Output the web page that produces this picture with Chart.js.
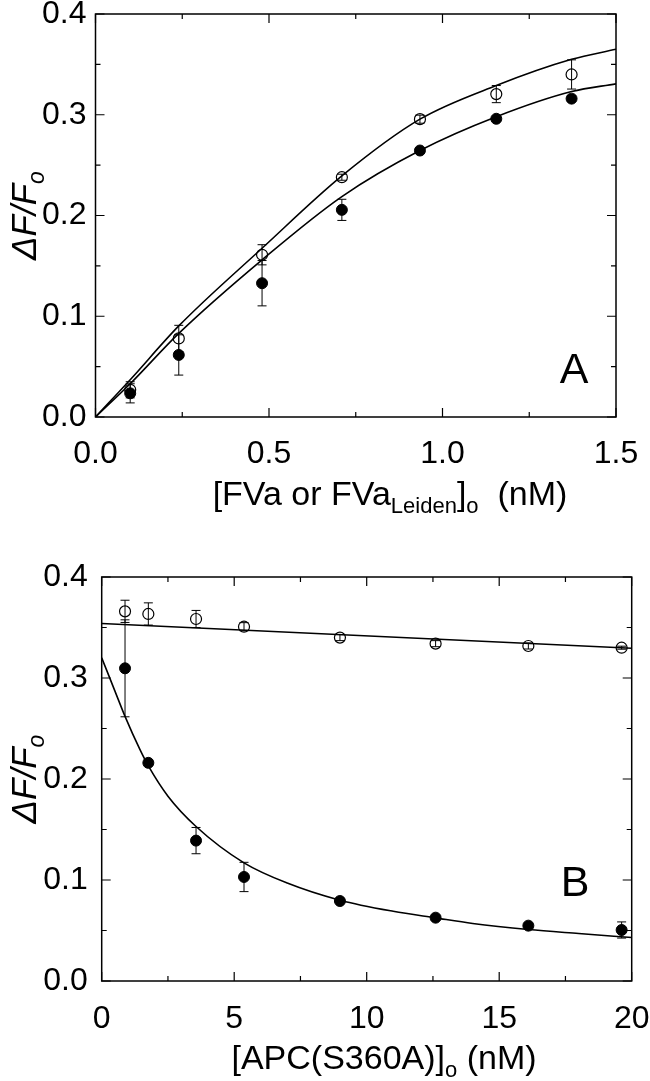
<!DOCTYPE html>
<html>
<head>
<meta charset="utf-8">
<title>Fluorescence binding titrations</title>
<script src="https://cdn.jsdelivr.net/npm/chart.js@4.4.1/dist/chart.umd.min.js"></script>
<style>
    html, body { margin: 0; padding: 0; background: #ffffff; }
    canvas { display: block; }
</style>
</head>
<body>

<canvas id="chartA" width="650" height="540"></canvas>
<canvas id="chartB" width="650" height="541"></canvas>

<script>
/* ==========================================
        DATA - PANEL A
========================================== */

const aConc = [0.10, 0.24, 0.48, 0.71, 0.935, 1.155, 1.372];

const aOpen = [0.027, 0.078, 0.161, 0.238, 0.2956, 0.3205, 0.340];
const aOpenErr = [0.008, 0.013, 0.010, 0.003, 0.004, 0.0085, 0.0145];

const aFilled = [0.0235, 0.0616, 0.1328, 0.2056, 0.2645, 0.296, 0.316];
const aFilledErr = [0.0095, 0.020, 0.0225, 0.0105, 0.002, 0.002, 0.003];

const aFitX = [0, 0.10, 0.24, 0.48, 0.71, 0.935, 1.155, 1.372, 1.5];
const aFitOpen = [0, 0.037, 0.0904, 0.1675, 0.2393, 0.2956, 0.329, 0.355, 0.365];
const aFitFilled = [0, 0.033, 0.083, 0.156, 0.2188, 0.2645, 0.298, 0.323, 0.3307];

const aXTicks = ["0.0", "0.5", "1.0", "1.5"];

/* ==========================================
        DATA - PANEL B
========================================== */

const bConc = [0.88, 1.76, 3.56, 5.37, 8.99, 12.6, 16.1, 19.62];

const bOpen = [0.366, 0.3634, 0.3584, 0.3508, 0.340, 0.334, 0.3317, 0.330];
const bOpenErr = [0.011, 0.011, 0.0085, 0.004, 0.003, 0.003, 0.003, 0.0015];

const bFilled = [0.3096, 0.216, 0.139, 0.103, 0.0792, 0.0627, 0.0548, 0.0505];
const bFilledErr = [0.048, 0.003, 0.013, 0.0145, 0.002, 0.002, 0.002, 0.008];

const bFitX = [0, 0.5, 0.88, 1.445, 1.76, 2.5, 3.56, 5.37, 7, 8.99, 11, 12.6, 14, 16.1, 18, 20];
const bFitFilled = [0.32, 0.287, 0.262, 0.229, 0.213, 0.183, 0.153, 0.117, 0.097, 0.080, 0.069, 0.0625, 0.057, 0.051, 0.047, 0.043];

const bFitOpenX = [0, 20];
const bFitOpen = [0.354, 0.3294];

const bXTicks = ["0", "5", "10", "15", "20"];

/* ==========================================
        SHARED
========================================== */

const yTicks = ["0.0", "0.1", "0.2", "0.3", "0.4"];

const FONT = "\"Liberation Sans\", Arial, Helvetica, sans-serif";

function toPoints(xs, ys) {

    return xs.map((x, i) => ({ x: x, y: ys[i] }));

}

/* ==========================================
        RICH TEXT (sub-scripts)
========================================== */

function drawRich(ctx, parts, cx, cy, size) {

    const subSize = Math.round(size * 0.66);

    let total = 0;

    parts.forEach(p => {
        ctx.font = (p.italic ? "italic " : "") + (p.sub ? subSize : size) + "px " + FONT;
        p.w = ctx.measureText(p.text).width;
        total += p.w;
    });

    let x = cx - total / 2;

    ctx.textBaseline = "middle";
    ctx.textAlign = "left";
    ctx.fillStyle = "#000";

    parts.forEach(p => {
        ctx.font = (p.italic ? "italic " : "") + (p.sub ? subSize : size) + "px " + FONT;
        ctx.fillText(p.text, x, cy + (p.sub ? size * 0.32 : 0));
        x += p.w;
    });

}

/* ==========================================
        ERROR BARS
========================================== */

const errorBarPlugin = {

    id: "errorBars",

    afterDatasetsDraw(chart) {

        const ctx = chart.ctx;
        const xs = chart.scales.x;
        const ys = chart.scales.y;

        chart.data.datasets.forEach(ds => {

            if (!ds.errors) return;

            ctx.save();
            ctx.strokeStyle = "#000";
            ctx.lineWidth = 1;

            ds.data.forEach((p, j) => {

                const e = ds.errors[j];
                const px = xs.getPixelForValue(p.x);
                const top = ys.getPixelForValue(p.y + e);
                const bot = ys.getPixelForValue(p.y - e);

                ctx.beginPath();
                ctx.moveTo(px, top);
                ctx.lineTo(px, bot);
                ctx.moveTo(px - 4.5, top);
                ctx.lineTo(px + 4.5, top);
                ctx.moveTo(px - 4.5, bot);
                ctx.lineTo(px + 4.5, bot);
                ctx.stroke();

            });

            ctx.restore();

        });

    }

};

/* ==========================================
        FRAME, TICKS, TITLES
========================================== */

function makeDecor(panel) {

    return {

        id: "decor",

        afterDraw(chart) {

            const ctx = chart.ctx;
            const a = chart.chartArea;
            const xs = chart.scales.x;
            const ys = chart.scales.y;

            ctx.save();
            ctx.strokeStyle = "#000";
            ctx.lineWidth = 1.5;
            ctx.strokeRect(a.left, a.top, a.right - a.left, a.bottom - a.top);

            ctx.lineWidth = 1.2;

            const xv = xs.ticks.map(t => t.value);
            const yv = ys.ticks.map(t => t.value);

            ctx.beginPath();

            xv.forEach((v, i) => {
                const px = xs.getPixelForValue(v);
                ctx.moveTo(px, a.bottom); ctx.lineTo(px, a.bottom - 9);
                ctx.moveTo(px, a.top); ctx.lineTo(px, a.top + 9);
                if (i < xv.length - 1) {
                    const mx = xs.getPixelForValue((v + xv[i + 1]) / 2);
                    ctx.moveTo(mx, a.bottom); ctx.lineTo(mx, a.bottom - 5);
                    ctx.moveTo(mx, a.top); ctx.lineTo(mx, a.top + 5);
                }
            });

            yv.forEach((v, i) => {
                const py = ys.getPixelForValue(v);
                ctx.moveTo(a.left, py); ctx.lineTo(a.left + 9, py);
                ctx.moveTo(a.right, py); ctx.lineTo(a.right - 9, py);
                if (i < yv.length - 1) {
                    const my = ys.getPixelForValue((v + yv[i + 1]) / 2);
                    ctx.moveTo(a.left, my); ctx.lineTo(a.left + 5, my);
                    ctx.moveTo(a.right, my); ctx.lineTo(a.right - 5, my);
                }
            });

            ctx.stroke();

            // panel letter
            ctx.font = "43px " + FONT;
            ctx.fillStyle = "#000";
            ctx.textAlign = "center";
            ctx.textBaseline = "middle";
            ctx.fillText(panel.letter, panel.letterX, panel.letterY);

            // x title
            drawRich(ctx, panel.xTitle, panel.xTitleX, panel.xTitleY, 34);

            // y title
            ctx.translate(26, (a.top + a.bottom) / 2);
            ctx.rotate(-Math.PI / 2);
            drawRich(ctx, [
                { text: "\u0394F/F", italic: true },
                { text: "o", italic: true, sub: true }
            ], 0, 0, 35);

            ctx.restore();

        }

    };

}

/* ==========================================
        CREATE CHART
========================================== */

function renderPanel(id, p) {

    const ctx = document.getElementById(id).getContext("2d");

    return new Chart(ctx, {

        type: "scatter",

        data: {

            datasets: [

                {
                    label: "filled",
                    data: toPoints(p.conc, p.filled),
                    errors: p.filledErr,
                    pointRadius: 5.5,
                    pointBackgroundColor: "#000",
                    pointBorderColor: "#000",
                    pointBorderWidth: 1,
                    order: 0
                },

                {
                    label: "open",
                    data: toPoints(p.conc, p.open),
                    errors: p.openErr,
                    pointRadius: 5.5,
                    pointBackgroundColor: "rgba(0,0,0,0)",
                    pointBorderColor: "#000",
                    pointBorderWidth: 1.2,
                    order: 1
                },

                {
                    label: "fit filled",
                    data: toPoints(p.fitFilledX, p.fitFilled),
                    showLine: true,
                    cubicInterpolationMode: "monotone",
                    borderColor: "#000",
                    borderWidth: 1.6,
                    pointRadius: 0,
                    order: 2
                },

                {
                    label: "fit open",
                    data: toPoints(p.fitOpenX, p.fitOpen),
                    showLine: true,
                    cubicInterpolationMode: "monotone",
                    borderColor: "#000",
                    borderWidth: 1.6,
                    pointRadius: 0,
                    order: 3
                }

            ]

        },

        options: {

            responsive: false,
            animation: false,
            devicePixelRatio: 1,

            layout: {
                padding: { top: p.padTop, right: p.padRight, left: 0, bottom: 0 }
            },

            plugins: {
                legend: { display: false },
                tooltip: { enabled: false },
                decor: {}
            },

            scales: {

                x: {
                    type: "linear",
                    min: 0,
                    max: p.xMax,
                    border: { display: false },
                    grid: { display: false, drawTicks: false },
                    ticks: {
                        stepSize: p.xStep,
                        padding: p.xPad,
                        maxRotation: 0,
                        color: "#000",
                        font: { family: FONT, size: 32 },
                        callback: (v, i) => p.xTicks[i]
                    },
                    afterFit: scale => {
                        scale.height = p.xHeight;
                        scale.paddingLeft = 0;
                        scale.paddingRight = 0;
                    }
                },

                y: {
                    type: "linear",
                    min: 0,
                    max: 0.4,
                    border: { display: false },
                    grid: { display: false, drawTicks: false },
                    ticks: {
                        stepSize: 0.1,
                        padding: p.yPad,
                        color: "#000",
                        font: { family: FONT, size: 32 },
                        callback: (v, i) => yTicks[i]
                    },
                    afterFit: scale => {
                        scale.width = p.yWidth;
                        scale.paddingTop = 0;
                        scale.paddingBottom = 0;
                    }
                }

            }

        },

        plugins: [errorBarPlugin, makeDecor(p.decor)]

    });

}

/* ==========================================
        LOAD
========================================== */

renderPanel("chartA", {
    conc: aConc,
    open: aOpen, openErr: aOpenErr,
    filled: aFilled, filledErr: aFilledErr,
    fitOpenX: aFitX, fitOpen: aFitOpen,
    fitFilledX: aFitX, fitFilled: aFitFilled,
    xMax: 1.5, xStep: 0.5, xTicks: aXTicks,
    padTop: 14, padRight: 34, xHeight: 123, yWidth: 95.5,
    xPad: 18, yPad: 9,
    decor: {
        letter: "A", letterX: 574, letterY: 371,
        xTitle: [
            { text: "[FVa or FVa" },
            { text: "Leiden", sub: true },
            { text: "]" },
            { text: "o", sub: true },
            { text: "  (nM)" }
        ],
        xTitleX: 390, xTitleY: 496
    }
});

renderPanel("chartB", {
    conc: bConc,
    open: bOpen, openErr: bOpenErr,
    filled: bFilled, filledErr: bFilledErr,
    fitOpenX: bFitOpenX, fitOpen: bFitOpen,
    fitFilledX: bFitX, fitFilled: bFitFilled,
    xMax: 20, xStep: 5, xTicks: bXTicks,
    padTop: 37, padRight: 18.3, xHeight: 100, yWidth: 101.7,
    xPad: 19, yPad: 14,
    decor: {
        letter: "B", letterX: 575, letterY: 344,
        xTitle: [
            { text: "[APC(S360A)]" },
            { text: "o", sub: true },
            { text: " (nM)" }
        ],
        xTitleX: 384, xTitleY: 520
    }
});
</script>
</body>
</html>
